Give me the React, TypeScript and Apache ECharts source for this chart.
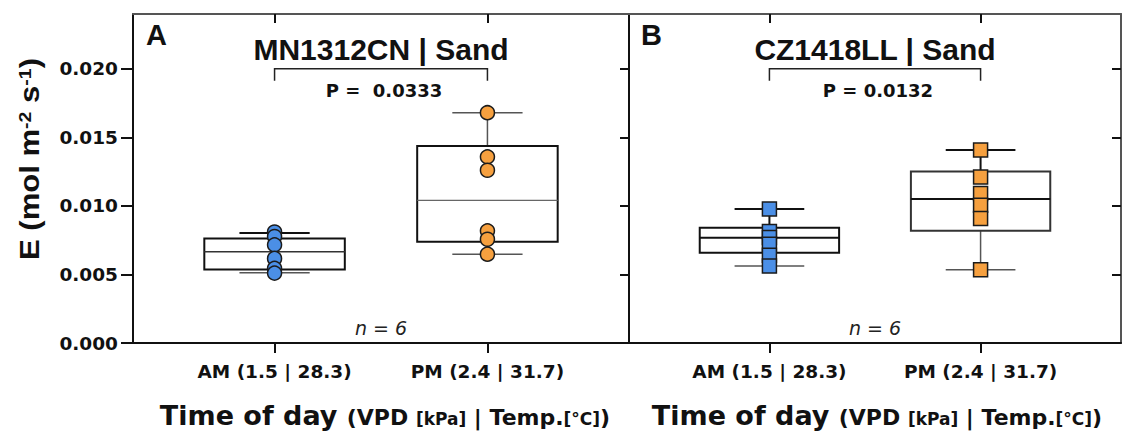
import React, { useEffect, useRef } from 'react';
import * as echarts from 'echarts';

// ---------------- data ----------------
const categories = ['AM (1.5 | 28.3)', 'PM (2.4 | 31.7)'];
const categoryPositions = [1, 2];
const yTicks = [0, 0.005, 0.01, 0.015, 0.02];
const panelTitles = ['MN1312CN | Sand', 'CZ1418LL | Sand'];
const panelLetters = ['A', 'B'];
const pValueTexts = ['P =  0.0333', 'P = 0.0132'];
const bracketLevel = [0.02, 0.02];
const sampleSizeText = 'n = 6';

// Panel A (MN1312CN) individual values
const aAM = [0.0081, 0.00777, 0.00716, 0.00617, 0.00544, 0.0051];
const aPM = [0.0168, 0.01358, 0.0126, 0.00818, 0.00757, 0.00648];
// box stats: min, Q1, median, Q3, max
const aAMBox = [0.00512, 0.00537, 0.00665, 0.00762, 0.00803];
const aPMBox = [0.00648, 0.00738, 0.01041, 0.01437, 0.0168];

// Panel B (CZ1418LL) individual values
const bAM = [0.00978, 0.00813, 0.0077, 0.0072, 0.0064, 0.00561];
const bPM = [0.01408, 0.01211, 0.0109, 0.01005, 0.00908, 0.00534];
const bAMBox = [0.00561, 0.00658, 0.00767, 0.00841, 0.00978];
const bPMBox = [0.00534, 0.00819, 0.0105, 0.01251, 0.01408];

// ---------------- styles ----------------
const FONT = '"Liberation Sans", Arial, Helvetica, sans-serif';
const WIDE = '"DejaVu Sans", Verdana, sans-serif';
const BLUE = '#4b8fe6';
const ORANGE = '#f6a03f';
const INK = '#111111';
const GREY = '#555555';

type BoxStyle = { box: string; boxW: number; med: string; medW: number; wTop: string; wTopW: number; wBot: string; wBotW: number };
const boxStylesA: BoxStyle[] = [
  { box: INK, boxW: 2, med: '#333', medW: 1.5, wTop: INK, wTopW: 2, wBot: GREY, wBotW: 1.5 },
  { box: INK, boxW: 2, med: '#666', medW: 1.2, wTop: GREY, wTopW: 1.5, wBot: GREY, wBotW: 1.5 },
];
const boxStylesB: BoxStyle[] = [
  { box: INK, boxW: 2, med: INK, medW: 2, wTop: INK, wTopW: 2, wBot: GREY, wBotW: 1.5 },
  { box: '#333', boxW: 2, med: INK, medW: 2, wTop: INK, wTopW: 2, wBot: GREY, wBotW: 1.5 },
];

const HALF_BOX = 0.33;
const HALF_CAP = 0.165;

function boxRenderer(styles: BoxStyle[]) {
  return (params: any, api: any) => {
    const idx = params.dataIndex;
    const st = styles[idx];
    const x = api.value(0);
    const mn = api.value(1), q1 = api.value(2), md = api.value(3), q3 = api.value(4), mx = api.value(5);
    const [lx, q3y] = api.coord([x - HALF_BOX, q3]);
    const [rx, q1y] = api.coord([x + HALF_BOX, q1]);
    const [cx, maxy] = api.coord([x, mx]);
    const miny = api.coord([x, mn])[1];
    const medy = api.coord([x, md])[1];
    const cl = api.coord([x - HALF_CAP, mx])[0];
    const cr = api.coord([x + HALF_CAP, mx])[0];
    return {
      type: 'group',
      children: [
        { type: 'line', shape: { x1: cx, y1: q3y, x2: cx, y2: maxy }, style: { stroke: st.wTop, lineWidth: st.wTopW } },
        { type: 'line', shape: { x1: cx, y1: q1y, x2: cx, y2: miny }, style: { stroke: st.wBot, lineWidth: st.wBotW } },
        { type: 'line', shape: { x1: cl, y1: maxy, x2: cr, y2: maxy }, style: { stroke: st.wTop, lineWidth: st.wTopW } },
        { type: 'line', shape: { x1: cl, y1: miny, x2: cr, y2: miny }, style: { stroke: st.wBot, lineWidth: st.wBotW } },
        { type: 'rect', shape: { x: lx, y: q3y, width: rx - lx, height: q1y - q3y }, style: { fill: 'rgba(0,0,0,0)', stroke: st.box, lineWidth: st.boxW } },
        { type: 'line', shape: { x1: lx, y1: medy, x2: rx, y2: medy }, style: { stroke: st.med, lineWidth: st.medW } },
      ],
    };
  };
}

function annotationRenderer(pText: string) {
  return (params: any, api: any) => {
    const x1 = api.value(0), x2 = api.value(1), lvl = api.value(2);
    const p1 = api.coord([x1, lvl]);
    const p2 = api.coord([x2, lvl]);
    const mid = api.coord([(x1 + x2) / 2, lvl]);
    const base = api.coord([(x1 + x2) / 2, 0]);
    return {
      type: 'group',
      children: [
        { type: 'polyline', shape: { points: [[p1[0], p1[1] + 12], p1, p2, [p2[0], p2[1] + 12]] }, style: { stroke: '#222', lineWidth: 1.5, fill: 'none' } },
        { type: 'text', x: mid[0] + 3, y: mid[1] + 22, style: { text: pText, fontSize: 18, fontWeight: 'bold', fontFamily: WIDE, fill: INK, align: 'center', verticalAlign: 'middle' } },
        { type: 'text', x: base[0], y: base[1] - 15, style: { text: sampleSizeText, fontSize: 19, fontStyle: 'italic', fontFamily: WIDE, fill: '#222', align: 'center', verticalAlign: 'middle' } },
      ],
    };
  };
}

function App() {
  const ref = useRef<HTMLDivElement>(null);
  useEffect(() => {
    const chart = echarts.init(ref.current as HTMLDivElement, null, { renderer: 'svg' });

    const grids = [
      { left: 133, top: 14, width: 496, height: 329 },
      { left: 629, top: 14, width: 492, height: 329 },
    ];

    const xAxes: any[] = [];
    const yAxes: any[] = [];
    [0, 1].forEach((g) => {
      xAxes.push({
        type: 'value', gridIndex: g, min: 0.335, max: 2.665, position: 'bottom',
        axisLine: { show: true, onZero: false, lineStyle: { color: INK, width: 2 } },
        axisTick: { show: true, customValues: categoryPositions, length: 10, lineStyle: { color: INK, width: 2 } },
        axisLabel: {
          show: true, customValues: categoryPositions, margin: 19,
          formatter: (v: number) => categories[Math.round(v) - 1] || '',
          fontSize: 18.5, fontWeight: 'bold', color: INK, fontFamily: WIDE,
        },
        splitLine: { show: false },
      });
      xAxes.push({
        type: 'value', gridIndex: g, min: 0.335, max: 2.665, position: 'top',
        axisLine: { show: true, onZero: false, lineStyle: { color: GREY, width: 2 } },
        axisTick: { show: true, inside: true, customValues: categoryPositions, length: 9, lineStyle: { color: INK, width: 2 } },
        axisLabel: { show: false },
        splitLine: { show: false },
      });
      yAxes.push({
        type: 'value', gridIndex: g, min: 0, max: 0.024, position: 'left',
        axisLine: { show: true, onZero: false, lineStyle: { color: INK, width: 2 } },
        axisTick: { show: g === 0, customValues: yTicks, length: 12, lineStyle: { color: INK, width: 2 } },
        axisLabel: {
          show: g === 0, customValues: yTicks, margin: 15,
          formatter: (v: number) => v.toFixed(3),
          fontSize: 18.5, fontWeight: 'bold', color: INK, fontFamily: WIDE,
        },
        splitLine: { show: false },
      });
      yAxes.push({
        type: 'value', gridIndex: g, min: 0, max: 0.024, position: 'right',
        axisLine: { show: true, onZero: false, lineStyle: { color: GREY, width: 2 } },
        axisTick: { show: true, inside: true, customValues: yTicks, length: 9, lineStyle: { color: INK, width: 2 } },
        axisLabel: { show: false },
        splitLine: { show: false },
      });
    });

    const panels = [
      { am: aAM, pm: aPM, amBox: aAMBox, pmBox: aPMBox, styles: boxStylesA, symbol: 'circle', size: 14 },
      { am: bAM, pm: bPM, amBox: bAMBox, pmBox: bPMBox, styles: boxStylesB, symbol: 'rect', size: 14 },
    ];

    const series: any[] = [];
    panels.forEach((p, g) => {
      const xi = g * 2, yi = g * 2;
      series.push({
        type: 'custom', xAxisIndex: xi, yAxisIndex: yi, z: 2,
        renderItem: boxRenderer(p.styles),
        encode: { x: 0, y: [1, 2, 3, 4, 5] },
        data: [[categoryPositions[0], ...p.amBox], [categoryPositions[1], ...p.pmBox]],
      });
      series.push({
        type: 'scatter', xAxisIndex: xi, yAxisIndex: yi, z: 3,
        symbol: p.symbol, symbolSize: p.size,
        itemStyle: { color: BLUE, borderColor: '#1b1b1b', borderWidth: 1.5, opacity: 1 },
        data: p.am.map((v) => [categoryPositions[0], v]),
      });
      series.push({
        type: 'scatter', xAxisIndex: xi, yAxisIndex: yi, z: 3,
        symbol: p.symbol, symbolSize: p.size,
        itemStyle: { color: ORANGE, borderColor: '#1b1b1b', borderWidth: 1.5, opacity: 1 },
        data: p.pm.map((v) => [categoryPositions[1], v]),
      });
      series.push({
        type: 'custom', xAxisIndex: xi, yAxisIndex: yi, z: 4,
        renderItem: annotationRenderer(pValueTexts[g]),
        encode: { x: [0, 1], y: 2 },
        data: [[categoryPositions[0], categoryPositions[1], bracketLevel[g]]],
      });
    });

    const titleCenters = [381, 875];
    const letterLefts = [146, 641];
    const axisTitleCenters = [385, 877];

    const graphic: any[] = [];
    [0, 1].forEach((g) => {
      graphic.push({
        type: 'text', x: letterLefts[g], y: 35,
        style: { text: panelLetters[g], fontSize: 29, fontWeight: 'bold', fontFamily: FONT, fill: INK, align: 'left', verticalAlign: 'middle' },
      });
      graphic.push({
        type: 'text', x: titleCenters[g], y: 49,
        style: { text: panelTitles[g], fontSize: 30, fontWeight: 'bold', fontFamily: FONT, fill: INK, align: 'center', verticalAlign: 'middle' },
      });
      graphic.push({
        type: 'text', x: axisTitleCenters[g], y: 415,
        style: {
          text: '{a|Time of day }{b|(VPD }{c|[kPa]}{b| | Temp.}{c|[°C]}{b|)}',
          align: 'center', verticalAlign: 'middle',
          rich: {
            a: { fontSize: 27, fontWeight: 'bold', fontFamily: WIDE, fill: INK, verticalAlign: 'bottom' },
            b: { fontSize: 22, fontWeight: 'bold', fontFamily: WIDE, fill: INK, verticalAlign: 'bottom' },
            c: { fontSize: 17, fontWeight: 'bold', fontFamily: WIDE, fill: INK, verticalAlign: 'bottom', padding: [0, 0, 1, 0] },
          },
        },
      });
    });
    graphic.push({
      type: 'text', x: 30, y: 159, rotation: Math.PI / 2, scaleX: 1.15,
      style: {
        text: '{m|E (mol m}{s|-2}{m| s}{s|-1}{m|)}',
        align: 'center', verticalAlign: 'middle',
        rich: {
          m: { fontSize: 27, fontWeight: 'bold', fontFamily: FONT, fill: INK, verticalAlign: 'bottom' },
          s: { fontSize: 17, fontWeight: 'bold', fontFamily: FONT, fill: INK, verticalAlign: 'top' },
        },
      },
    });

    chart.setOption({
      animation: false,
      backgroundColor: '#ffffff',
      textStyle: { fontFamily: FONT },
      grid: grids,
      xAxis: xAxes,
      yAxis: yAxes,
      series,
      graphic,
    });
    return () => chart.dispose();
  }, []);
  return <div ref={ref} style={{ position: 'fixed', left: 0, top: 0, width: 1125, height: 439 }} />;
}

export default App;
